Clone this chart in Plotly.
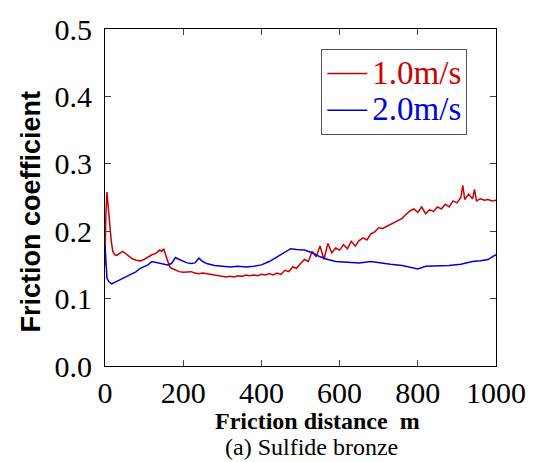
import plotly.graph_objects as go

# 1.0 m/s series
red_d = [0, 2, 5, 8, 12, 16, 20, 25, 30, 35, 40, 45, 50, 60, 70, 80, 90, 100,
         110, 120, 130, 140, 145, 150, 155, 160, 165, 170, 180, 190, 200, 210,
         220, 230, 240, 250, 260, 270, 280, 290, 300, 310, 320, 330, 340, 350,
         360, 370, 380, 390, 400, 410, 420, 430, 440, 450, 460, 470, 480, 490,
         500, 510, 520, 530, 540, 550, 560, 570, 580, 590, 600, 610, 620, 630,
         640, 650, 660, 670, 680, 690, 700, 710, 720, 730, 740, 750, 760, 770,
         780, 790, 800, 810, 820, 830, 840, 850, 860, 870, 880, 890, 900, 910,
         915, 920, 930, 940, 945, 950, 960, 970, 980, 990, 1000]
red_f = [0.150, 0.220, 0.258, 0.235, 0.205, 0.185, 0.170, 0.165, 0.164, 0.166,
         0.169, 0.170, 0.168, 0.163, 0.159, 0.157, 0.156, 0.158, 0.162, 0.165,
         0.167, 0.172, 0.170, 0.174, 0.165, 0.155, 0.148, 0.145, 0.142, 0.140,
         0.139, 0.139, 0.140, 0.138, 0.137, 0.138, 0.137, 0.136, 0.135, 0.135,
         0.134, 0.132, 0.133, 0.132, 0.134, 0.133, 0.135, 0.134, 0.135, 0.134,
         0.136, 0.135, 0.137, 0.135, 0.138, 0.136, 0.142, 0.140, 0.147, 0.145,
         0.152, 0.158, 0.155, 0.170, 0.162, 0.178, 0.158, 0.182, 0.168, 0.175,
         0.172, 0.180, 0.174, 0.185, 0.178, 0.186, 0.190, 0.187, 0.196, 0.199,
         0.205, 0.204, 0.207, 0.210, 0.212, 0.216, 0.219, 0.225, 0.230, 0.233,
         0.228, 0.236, 0.226, 0.232, 0.229, 0.236, 0.233, 0.240, 0.236, 0.245,
         0.242, 0.250, 0.268, 0.247, 0.255, 0.248, 0.262, 0.245, 0.248, 0.246,
         0.247, 0.245, 0.246]

# 2.0 m/s series
blue_d = [0, 2, 5, 10, 17, 25, 35, 50, 60, 70, 80, 90, 100, 110, 120, 130, 140,
          150, 160, 170, 180, 190, 200, 210, 220, 230, 240, 250, 260, 270, 280,
          300, 320, 340, 360, 380, 400, 420, 440, 460, 475, 490, 510, 530, 550,
          570, 590, 620, 650, 680, 700, 730, 760, 790, 800, 820, 850, 880, 910,
          940, 960, 980, 990, 1000]
blue_f = [0.180, 0.150, 0.130, 0.125, 0.122, 0.124, 0.127, 0.131, 0.134, 0.138,
          0.140, 0.145, 0.147, 0.150, 0.155, 0.154, 0.152, 0.151, 0.150, 0.152,
          0.161, 0.158, 0.155, 0.153, 0.152, 0.153, 0.160, 0.155, 0.152, 0.150,
          0.149, 0.148, 0.147, 0.148, 0.147, 0.148, 0.150, 0.155, 0.162, 0.170,
          0.174, 0.173, 0.172, 0.168, 0.162, 0.158, 0.155, 0.154, 0.153, 0.155,
          0.153, 0.151, 0.149, 0.146, 0.144, 0.148, 0.148, 0.149, 0.151, 0.155,
          0.156, 0.158, 0.162, 0.165]

series_names = ["1.0m/s", "2.0m/s"]
x_ticks = [0, 200, 400, 600, 800, 1000]
y_ticks = [0, 0.1, 0.2, 0.3, 0.4, 0.5]
RED = "#cc0000"
BLUE = "#0000dd"
SERIF = "Liberation Serif, Times New Roman, serif"

fig = go.Figure()
fig.add_trace(go.Scatter(x=red_d, y=red_f, mode="lines",
                         line=dict(color=RED, width=1.5),
                         name=f"<span style='color:{RED};font-size:33px'>{series_names[0]}</span>"))
fig.add_trace(go.Scatter(x=blue_d, y=blue_f, mode="lines",
                         line=dict(color=BLUE, width=1.5),
                         name=f"<span style='color:{BLUE};font-size:33px'>{series_names[1]}</span>"))

def axis_style():
    return dict(showline=True, linecolor="black", linewidth=1.2, mirror="ticks",
                ticks="inside", ticklen=6, tickcolor="#444", tickwidth=1,
                showgrid=False, zeroline=False,
                tickfont=dict(family=SERIF, size=30, color="black"))

fig.update_xaxes(range=[0, 1000], tickvals=x_ticks, **axis_style())
fig.update_yaxes(range=[0, 0.5], tickvals=y_ticks, tickformat=".1f",
                 ticklabelstandoff=6, **axis_style())

L, R, T, B = 105, 39, 29, 96
W, H = 538, 462
plot_w = W - L - R
plot_h = H - T - B

def px_x(px):
    return (px - L) / plot_w

def px_y(py):
    return (H - B - py) / plot_h

fig.update_layout(
    width=W, height=H,
    margin=dict(l=L, r=R, t=T, b=B),
    paper_bgcolor="white", plot_bgcolor="white",
    font=dict(family=SERIF),
    showlegend=True,
    legend=dict(x=px_x(323), y=px_y(49), xanchor="left", yanchor="top",
                bordercolor="#555", borderwidth=1, bgcolor="white",
                font=dict(family=SERIF, size=26),
                itemwidth=40, tracegroupgap=0),
    annotations=[
        dict(text="<b>Friction coefficient</b>", textangle=-90,
             x=px_x(30), y=px_y(212), xref="paper", yref="paper", showarrow=False,
             xanchor="center", yanchor="middle",
             font=dict(family="Liberation Sans, Arial, sans-serif", size=27, color="black")),
        dict(text="<b>Friction distance  m</b>", x=px_x(319), y=px_y(421),
             xref="paper", yref="paper", showarrow=False,
             xanchor="center", yanchor="middle",
             font=dict(family=SERIF, size=24, color="black")),
        dict(text="(a) Sulfide bronze", x=px_x(313), y=px_y(447),
             xref="paper", yref="paper", showarrow=False,
             xanchor="center", yanchor="middle",
             font=dict(family=SERIF, size=24, color="black")),
    ],
)

fig.write_html("out.html", config={"displayModeBar": False},
               post_script="document.body.style.margin='0';")
